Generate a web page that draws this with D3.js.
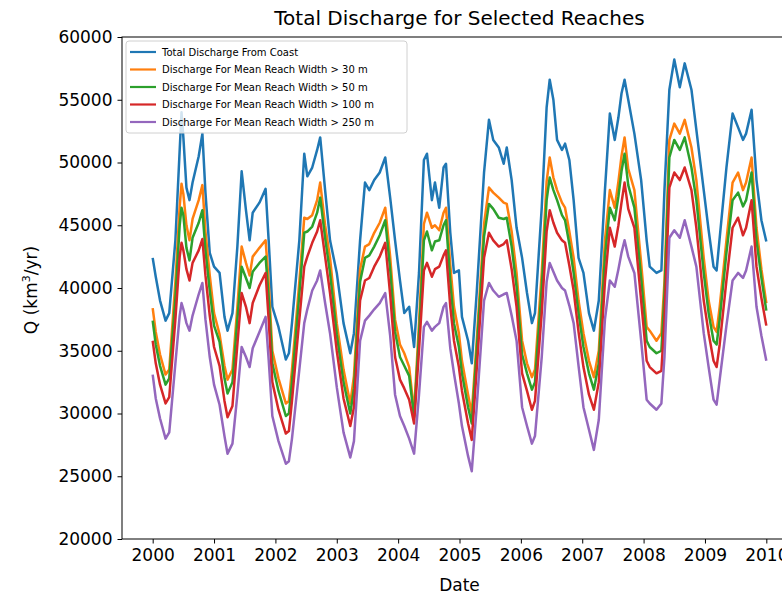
<!DOCTYPE html>
<html><head><meta charset="utf-8">
<script src="https://cdn.jsdelivr.net/npm/d3@7"></script>
<style>body{margin:0;background:#fff}svg{display:block}text{font-family:"DejaVu Sans",sans-serif;fill:#000}</style>
</head><body><svg id="c" width="782" height="596"></svg>
<script>
const title = "Total Discharge for Selected Reaches";
const xLabel = "Date";
const seriesNames = ["Total Discharge From Coast","Discharge For Mean Reach Width > 30 m","Discharge For Mean Reach Width > 50 m","Discharge For Mean Reach Width > 100 m","Discharge For Mean Reach Width > 250 m"];
const colors = ["#1f77b4","#ff7f0e","#2ca02c","#d62728","#9467bd"];
const xTicks = [2000,2001,2002,2003,2004,2005,2006,2007,2008,2009,2010];
const yTicks = [20000,25000,30000,35000,40000,45000,50000,55000,60000];

const times = [2000.00,2000.05,2000.12,2000.21,2000.27,2000.37,2000.44,2000.47,2000.50,2000.55,2000.60,2000.65,2000.75,2000.81,2000.86,2000.93,
2001.00,2001.09,2001.17,2001.22,2001.30,2001.38,2001.45,2001.52,2001.58,2001.63,2001.74,2001.84,2001.89,2001.95,
2002.05,2002.17,2002.22,2002.27,2002.39,2002.47,2002.52,2002.60,2002.68,2002.73,2002.81,2002.89,
2003.00,2003.11,2003.22,2003.28,2003.38,2003.46,2003.53,2003.61,2003.70,2003.79,2003.87,2003.95,
2004.03,2004.10,2004.18,2004.26,2004.34,2004.42,2004.47,2004.55,2004.60,2004.67,2004.74,2004.78,2004.85,2004.91,2004.99,
2005.04,2005.14,2005.20,2005.28,2005.40,2005.48,2005.55,2005.64,2005.72,2005.77,2005.85,2005.93,
2006.02,2006.10,2006.18,2006.23,2006.34,2006.42,2006.47,2006.53,2006.59,2006.67,2006.72,2006.79,2006.86,2006.94,
2007.02,2007.11,2007.19,2007.27,2007.37,2007.45,2007.53,2007.59,2007.64,2007.69,2007.75,2007.85,2007.96,
2008.05,2008.10,2008.21,2008.29,2008.34,2008.42,2008.50,2008.59,2008.67,2008.78,2008.86,2008.98,
2009.06,2009.14,2009.19,2009.24,2009.35,2009.45,2009.54,2009.62,2009.67,2009.76,2009.84,2009.92,2010.00];

const totalCoast = [42400,40900,39000,37400,38000,43800,51000,54000,52000,48000,47000,48400,50500,52300,47600,42800,
41700,41200,37700,36600,38000,43300,49300,46200,43800,46000,46800,47900,43800,38500,
36900,34300,34800,37200,43800,50700,48900,49600,51000,52000,47800,43800,
41200,37200,34800,36400,43800,48400,47800,48600,49200,50400,47200,43800,
40600,38000,38500,35300,41200,50200,50700,47000,48400,46400,49600,49900,44400,41200,41400,
37700,35800,34000,39600,49200,53400,51800,51200,49900,51200,48600,44800,
42400,39600,37200,38000,46400,54400,56600,55000,51800,51000,51500,50200,47000,42400,
41200,38000,36600,39000,47800,53900,51800,53600,55500,56600,55000,52300,48600,
43800,41700,41200,41400,47800,55800,58200,56000,57900,55800,52600,47800,
44600,41700,41400,44000,49600,53900,52800,51800,52300,54200,48600,45400,43700];

const width30 = [38400,36500,34700,33100,33500,40500,46500,48300,47500,45000,43800,45500,47000,48200,44500,41000,
38000,36300,33800,32700,33500,38500,43300,42000,41000,42500,43200,43800,40500,35000,
32800,30800,31000,33500,40500,45600,45500,45800,47000,48400,45000,42400,
37200,33500,30800,33000,41500,43300,43500,44400,45200,46400,42500,37500,
35500,34800,33700,30100,37200,45100,46000,44800,45000,44600,46000,46400,41800,38500,36400,
34200,31500,30000,35800,45100,48000,47600,47200,46800,46700,44500,41200,
35800,34000,32900,33500,41200,48500,50400,48800,47800,46800,46400,44500,42400,39000,
36400,34200,32900,35000,43800,47800,46400,48500,50500,52000,49500,47800,42000,
36900,36600,35800,36400,40500,51800,53100,52300,53400,51200,48600,42400,
39000,36900,36500,38500,43800,48400,49200,47800,48400,50400,44800,41500,38800];

const width50 = [37400,35500,33800,32300,32800,39200,45000,46400,45800,43200,42200,44000,45200,46200,43000,39800,
37000,35700,32800,31600,32500,37500,41700,40800,40000,41300,42000,42500,39300,34000,
31800,29800,30000,32500,39500,44400,44500,44900,46000,47200,44000,41200,
36300,32500,30000,32000,40500,42400,42600,43300,44200,45400,41500,36500,
34500,33800,33000,29700,36200,43800,44500,43000,43700,43800,45000,45400,40500,37200,35300,
33200,30500,29200,35000,44100,46700,46300,45600,45500,45600,43300,40100,
34700,33200,31900,32500,40000,47000,48800,47800,47000,45800,45400,43500,41200,38000,
35300,33200,31900,34000,42500,46400,45400,47300,49300,50700,48200,46400,40800,
35800,35300,34800,35000,39500,50400,51800,51000,52000,49600,47000,41200,
38000,35800,35500,37500,42800,47000,47600,46500,47000,49200,43800,40800,38200];

const width100 = [35800,34000,32300,30800,31300,37500,42500,43600,43000,41500,40600,42000,43000,43900,41000,37800,
35300,33800,31000,29700,30600,35500,39600,38500,37200,38800,40200,41200,37500,32500,
30300,28400,28600,31000,37500,41700,42500,43600,44500,45400,42500,39600,
35000,31200,29000,30500,39000,40600,40800,41700,42500,43600,39500,34500,
32700,32000,31100,29200,35000,41400,42000,40900,41500,41700,42600,43000,38500,35800,33700,
31800,29200,27900,33500,42400,44400,43800,43300,43500,43800,41500,38500,
33200,31800,30300,31000,38000,44500,46200,45200,44400,43800,43600,41800,39800,36500,
33700,31500,30300,32500,40500,44800,43300,45000,46800,48400,46300,44800,39000,
34200,33700,33200,33400,37500,48000,49200,48600,49600,47800,44800,39000,
36400,34200,33700,35500,40600,44800,45600,44200,44800,47000,41700,39200,37000];

const width250 = [33100,31200,29600,28000,28500,34000,37800,38800,38300,37200,36600,37800,39500,40400,37500,34500,
32300,30700,28200,26800,27600,31500,35300,34500,33700,35200,36500,37700,34300,29800,
27800,26000,26200,28000,33500,37200,38300,39800,40600,41400,38800,36400,
32100,28500,26500,27800,35800,37400,37800,38300,38800,39600,36200,31500,
29800,29000,28000,26800,31500,36900,37300,36600,36900,37200,38500,38800,35200,33200,30800,
29000,26600,25400,30500,39000,40400,39800,39300,39500,39600,37800,35800,
30500,29000,27600,28200,34500,40500,42000,41300,40600,40000,39800,38600,37200,33800,
30500,28700,27100,29500,37500,40600,40100,41500,42800,43800,42500,41200,35800,
31100,30800,30300,30800,34500,44000,44600,44000,45400,43300,41700,36400,
33700,31100,30700,32700,37000,40600,41200,40800,41400,43300,38500,36200,34200];

const seriesValues = [totalCoast,width30,width50,width100,width250];

const svg = d3.select("#c");
const L = 122, R = 797, T = 37, B = 539;
const x = d3.scaleLinear().domain([1999.5, 2010.5]).range([L, R]);
const y = d3.scaleLinear().domain([20000, 60000]).range([B, T]);

svg.append("clipPath").attr("id","cp").append("rect").attr("x",L).attr("y",T).attr("width",R-L).attr("height",B-T);
const g = svg.append("g").attr("clip-path","url(#cp)");
const line = d3.line().x((d,i)=>x(times[i])).y(d=>y(d));
seriesValues.forEach((vals,k)=>{
  g.append("path").datum(vals).attr("d",line).attr("fill","none")
   .attr("stroke",colors[k]).attr("stroke-width",2.5).attr("stroke-linejoin","round");
});

const xAxis = svg.append("g").attr("transform",`translate(0,${B})`)
  .call(d3.axisBottom(x).tickValues(xTicks).tickFormat(d3.format("d")).tickSize(4.5).tickPadding(5));
const yAxis = svg.append("g").attr("transform",`translate(${L},0)`)
  .call(d3.axisLeft(y).tickValues(yTicks).tickFormat(d3.format("d")).tickSize(4.5).tickPadding(5));
[xAxis,yAxis].forEach(a=>{
  a.select(".domain").remove();
  a.selectAll("line").attr("stroke","#000").attr("stroke-width",1);
  a.selectAll("text").attr("font-size",17).attr("font-family","DejaVu Sans").attr("fill","#000");
});
svg.append("rect").attr("x",L).attr("y",T).attr("width",R-L).attr("height",B-T)
  .attr("fill","none").attr("stroke","#000").attr("stroke-width",1);

svg.append("text").attr("x",(L+R)/2).attr("y",25).attr("text-anchor","middle").attr("font-size",20).text(title);
svg.append("text").attr("x",(L+R)/2).attr("y",591).attr("text-anchor","middle").attr("font-size",17).text(xLabel);
const yl = svg.append("text").attr("transform","translate(37,290) rotate(-90)").attr("text-anchor","middle").attr("font-size",17);
yl.append("tspan").text("Q (km");
yl.append("tspan").attr("font-size",11).attr("dy",-7).text("3");
yl.append("tspan").attr("dy",7).text("/yr)");

const lg = svg.append("g");
lg.append("rect").attr("x",126).attr("y",41).attr("width",281).attr("height",92).attr("rx",3)
  .attr("fill","#fff").attr("fill-opacity",0.8).attr("stroke","#d0d0d0");
seriesNames.forEach((n,k)=>{
  const yy = 52 + k*17.5;
  lg.append("line").attr("x1",130).attr("x2",156).attr("y1",yy).attr("y2",yy).attr("stroke",colors[k]).attr("stroke-width",2.2);
  lg.append("text").attr("x",162).attr("y",yy+3.6).attr("font-size",10).attr("fill","#222").text(n);
});
</script></body></html>
